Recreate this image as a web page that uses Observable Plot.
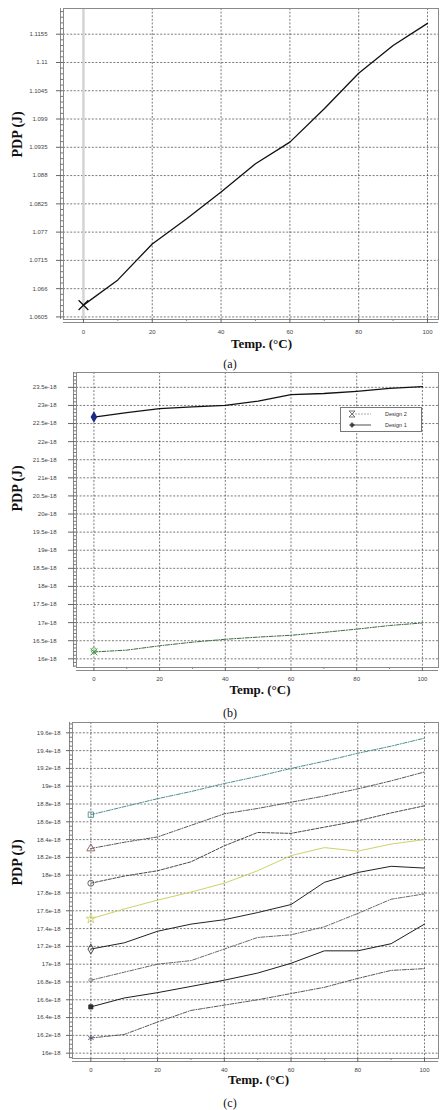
<!DOCTYPE html>
<html><head><meta charset="utf-8">
<script src="https://cdn.jsdelivr.net/npm/d3@7"></script>
<script src="https://cdn.jsdelivr.net/npm/@observablehq/plot@0.6"></script>
<style>
body{margin:0;background:#fff;width:441px;height:1110px;position:relative;overflow:hidden}
.panel{position:absolute;left:0}
.cap{position:absolute;font-family:"Liberation Serif",serif;font-size:12px;transform:translate(-50%,-50%);color:#111}
.legend{position:absolute;left:340px;top:407px;width:80px;height:23px;border:1px solid #777;background:#fff;font-family:"Liberation Sans",sans-serif;font-size:5.5px;color:#333}
.legend div{height:11px;display:flex;align-items:center}
.legend span{margin-left:14px}
</style></head><body>
<div id="pa" class="panel" style="top:0px"></div>
<div id="pb" class="panel" style="top:366px"></div>
<div id="pc" class="panel" style="top:716px"></div>
<div class="cap" style="left:230px;top:364px">(a)</div>
<div class="cap" style="left:230px;top:713px">(b)</div>
<div class="cap" style="left:230px;top:1103px">(c)</div>
<div class="legend">
  <div><svg width="30" height="10"><path d="M8,2 L14,2 L8,8 L14,8 Z" fill="none" stroke="#555" stroke-width="0.8"/><line x1="11" y1="5" x2="30" y2="5" stroke="#777" stroke-width="0.6" stroke-dasharray="2,1"/></svg><span>Design 2</span></div>
  <div><svg width="30" height="10"><circle cx="11" cy="5" r="2" fill="#444"/><path d="M8,5 L14,5 M11,2 L11,8" stroke="#444" stroke-width="0.7"/><line x1="11" y1="5" x2="30" y2="5" stroke="#222" stroke-width="0.8"/></svg><span>Design 1</span></div>
</div>
<script>
// ---------- data ----------
const temps = [0, 10, 20, 30, 40, 50, 60, 70, 80, 90, 100];
const xTicks = [0, 20, 40, 60, 80, 100];
const xMinorTicks = [10, 30, 50, 70, 90];

// panel (a)
const pdpA = [1.0628, 1.0677, 1.0747, 1.0796, 1.0848, 1.0903, 1.0945, 1.1010, 1.1079, 1.1133, 1.1176];
const yTicksA = [1.0605, 1.066, 1.0715, 1.077, 1.0825, 1.088, 1.0935, 1.099, 1.1045, 1.11, 1.1155];

// panel (b)  (values in units of 1e-18 J)
const design1 = [22.68, 22.80, 22.91, 22.96, 23.00, 23.12, 23.30, 23.33, 23.39, 23.47, 23.52];
const design2 = [16.19, 16.24, 16.36, 16.46, 16.54, 16.60, 16.65, 16.73, 16.82, 16.92, 16.99];
const yTicksB = [16, 16.5, 17, 17.5, 18, 18.5, 19, 19.5, 20, 20.5, 21, 21.5, 22, 22.5, 23, 23.5];

// panel (c)  (values in units of 1e-18 J)
const c1 = [18.68, 18.77, 18.86, 18.94, 19.03, 19.11, 19.20, 19.28, 19.37, 19.45, 19.54];
const c2 = [18.30, 18.37, 18.43, 18.56, 18.69, 18.75, 18.82, 18.89, 18.97, 19.06, 19.16];
const c3 = [17.91, 17.99, 18.05, 18.15, 18.33, 18.48, 18.47, 18.54, 18.61, 18.70, 18.78];
const c4 = [17.51, 17.62, 17.72, 17.81, 17.91, 18.05, 18.22, 18.31, 18.27, 18.35, 18.40];
const c5 = [17.17, 17.24, 17.37, 17.45, 17.50, 17.58, 17.67, 17.92, 18.03, 18.10, 18.08];
const c6 = [16.82, 16.91, 17.00, 17.04, 17.17, 17.30, 17.33, 17.42, 17.57, 17.73, 17.79];
const c7 = [16.52, 16.62, 16.68, 16.75, 16.82, 16.90, 17.01, 17.15, 17.15, 17.23, 17.45];
const c8 = [16.17, 16.21, 16.35, 16.48, 16.54, 16.60, 16.67, 16.74, 16.84, 16.93, 16.95];
const yTicksC = [16, 16.2, 16.4, 16.6, 16.8, 17, 17.2, 17.4, 17.6, 17.8, 18, 18.2, 18.4, 18.6, 18.8, 19, 19.2, 19.4, 19.6];

// ---------- styles ----------
const styleC = [
  {values: c1, stroke: "#4e8f8f", dash: "4,1.5,1,1.5", symbol: "square", mstroke: "#4e8f8f", mfill: "none"},
  {values: c2, stroke: "#5a5a5a", dash: "4,1.5,1,1.5", symbol: "triangle", mstroke: "#8a5a5a", mfill: "none"},
  {values: c3, stroke: "#4a4a4a", dash: "3,1.5", symbol: "circle", mstroke: "#555", mfill: "none"},
  {values: c4, stroke: "#cdd26a", dash: null, symbol: "star", mstroke: "#cdd26a", mfill: "none"},
  {values: c5, stroke: "#222", dash: null, symbol: "diamond", mstroke: "#333", mfill: "none"},
  {values: c6, stroke: "#6a6a6a", dash: "4,1.5,1,1.5", symbol: "circle", mstroke: "#888", mfill: "none", r: 2},
  {values: c7, stroke: "#1e1e1e", dash: null, symbol: "square", mstroke: "#222", mfill: "#333", r: 2.3},
  {values: c8, stroke: "#5a5a5a", dash: "4,1.5,1,1.5", symbol: "asterisk", mstroke: "#557", mfill: "none"}
];

function minorTicks(major, n) {
  const out = [];
  for (let i = 0; i < major.length; i++) {
    const step = (major[1] - major[0]) / n;
    for (let k = 1; k < n; k++) out.push(major[i] + k * step);
    if (i === 0) for (let k = 1; k < n; k++) out.push(major[0] - k * step);
  }
  return out;
}

const tickFont = {fontSize: 6, fill: "#444", fontFamily: "Liberation Sans, sans-serif"};

function panel(o) {
  const marks = [
    Plot.gridY(o.yTicks, {stroke: "#222", strokeOpacity: 0.75, strokeDasharray: "2,1.6", strokeWidth: 0.8}),
    Plot.gridX(xTicks, {stroke: "#222", strokeOpacity: 0.75, strokeDasharray: "2,1.6", strokeWidth: 0.8}),
    ...(o.extra0 || []),
    Plot.frame({stroke: "#8a8a8a", strokeWidth: 1}),
    Plot.ruleY([o.yDomain[0]], {stroke: "#8a8a8a", dy: 3}),
    Plot.ruleX([o.xDomain[0]], {stroke: "#8a8a8a", dx: -3}),
    Plot.axisY(o.yTicks, {tickSize: o.yTickSize, tickPadding: o.yTickPad, tickFormat: o.yFmt, stroke: "#666", ...tickFont, label: null}),
    Plot.axisY(minorTicks(o.yTicks, o.nMinor).filter(v => v > o.yDomain[0] && v < o.yDomain[1]), {tickSize: 3, tickFormat: () => "", stroke: "#777", label: null}),
    Plot.axisX(xTicks, {tickSize: 4, tickPadding: o.xTickPad, stroke: "#666", ...tickFont, label: null}),
    Plot.axisX(xMinorTicks, {tickSize: 2, tickFormat: () => "", stroke: "#888", label: null}),
    ...o.series,
    Plot.text(["Temp. (°C)"], {frameAnchor: "bottom", dx: o.tdx, dy: o.tdy, fontFamily: "Liberation Serif, serif", fontWeight: "bold", fontSize: 13, fill: "#111"}),
    Plot.text(["PDP (J)"], {frameAnchor: "left", rotate: -90, dx: 17 - o.marginLeft, dy: o.pdy, fontFamily: "Liberation Serif, serif", fontWeight: "bold", fontSize: 14, fill: "#111"})
  ];
  return Plot.plot({
    width: 441, height: o.height,
    marginTop: o.marginTop, marginBottom: o.marginBottom, marginLeft: o.marginLeft, marginRight: 3,
    x: {domain: o.xDomain, label: null},
    y: {domain: o.yDomain, label: null},
    style: {background: "transparent", overflow: "visible"},
    marks
  });
}

const rows = (vals) => temps.map((t, i) => ({t, v: vals[i]}));

// panel (a)
document.getElementById("pa").append(panel({
  height: 358, marginTop: 8, marginBottom: 39, marginLeft: 63,
  xDomain: [-5.8, 103.2], yDomain: [1.0600, 1.1205],
  yTicks: yTicksA, yFmt: d => String(+d.toFixed(4)), yTickSize: 7, yTickPad: 9, nMinor: 5, xTickPad: 6,
  tdx: 10.5, tdy: 28, pdy: -6.5,
  extra0: [Plot.ruleX([0], {stroke: "#d4d4d4", strokeWidth: 2.5})],
  series: [
    Plot.line(rows(pdpA), {x: "t", y: "v", stroke: "#111", strokeWidth: 1.3}),
    Plot.dot(rows(pdpA).slice(0, 1), {x: "t", y: "v", symbol: "times", r: 4.5, stroke: "#111", strokeWidth: 1.3})
  ]
}));

// panel (b)
document.getElementById("pb").append(panel({
  height: 336, marginTop: 6, marginBottom: 35, marginLeft: 76,
  xDomain: [-5.3, 104.9], yDomain: [15.76, 23.91],
  yTicks: yTicksB, yFmt: d => `${d}e-18`, yTickSize: 8, yTickPad: 12, nMinor: 5, xTickPad: 5,
  tdx: 2.5, tdy: 26, pdy: -8.5,
  series: [
    Plot.line(rows(design2), {x: "t", y: "v", stroke: "#3f6a3f", strokeWidth: 1, strokeDasharray: "4,1.5,1,1.5"}),
    Plot.line(rows(design1), {x: "t", y: "v", stroke: "#111", strokeWidth: 1.3}),
    Plot.dot(rows(design2).slice(0, 1), {x: "t", y: "v", symbol: "times", r: 3.2, stroke: "#4a9a4a", strokeWidth: 1}),
    Plot.dot(rows(design2).slice(0, 1), {x: "t", y: "v", symbol: "circle", r: 2.7, stroke: "#4a9a4a", strokeWidth: 0.8, dy: -1.5}),
    Plot.dot(rows(design1).slice(0, 1), {x: "t", y: "v", symbol: "diamond", r: 2.6, fill: "#1c2a88", stroke: "#1c2a88"})
  ]
}));

// panel (c)
document.getElementById("pc").append(panel({
  height: 380, marginTop: 6, marginBottom: 38, marginLeft: 72,
  xDomain: [-5.5, 104.2], yDomain: [15.94, 19.716],
  yTicks: yTicksC, yFmt: d => `${+d.toFixed(1)}e-18`, yTickSize: 6, yTickPad: 6, nMinor: 4, xTickPad: 5,
  tdx: 3, tdy: 25, pdy: -5,
  series: styleC.flatMap(s => [
    Plot.line(rows(s.values), {x: "t", y: "v", stroke: s.stroke, strokeWidth: 1, strokeDasharray: s.dash}),
    Plot.dot(rows(s.values).slice(0, 1), {x: "t", y: "v", symbol: s.symbol, r: s.r || 3, stroke: s.mstroke, fill: s.mfill, strokeWidth: 0.9})
  ])
}));
</script>
</body></html>
